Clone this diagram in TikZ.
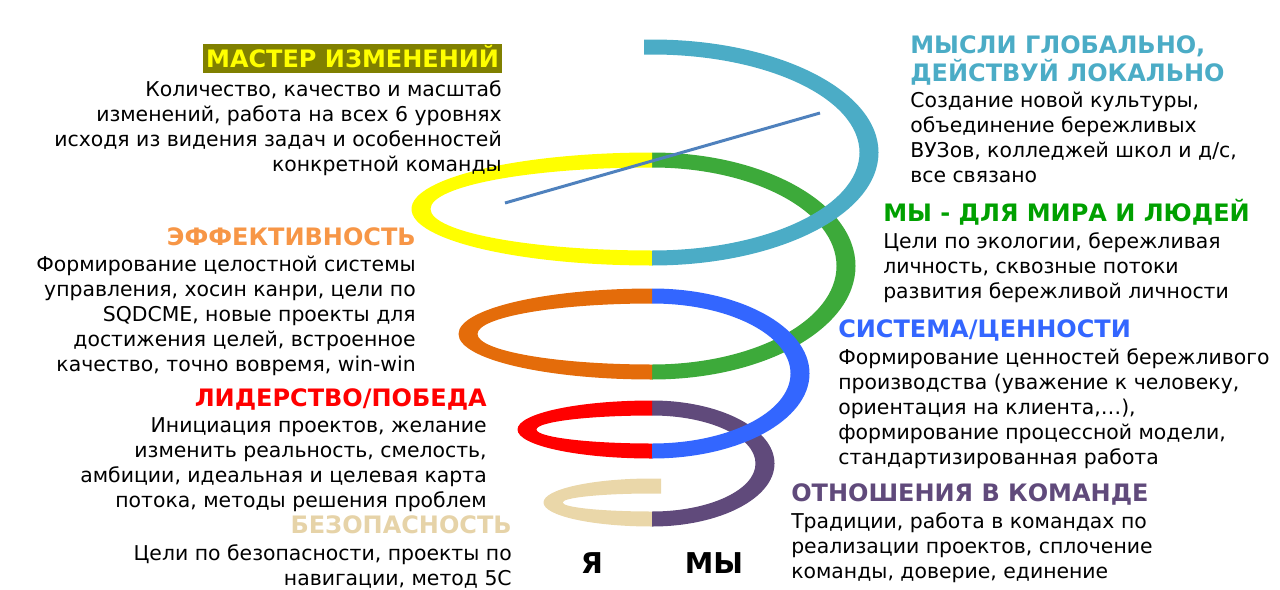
\documentclass[tikz,border=0pt]{standalone}
\usepackage{fontspec}
\setmainfont{DejaVu Sans}
\usepackage{xcolor}
\usetikzlibrary{positioning}

\definecolor{aquaC}{HTML}{4BACC6}
\definecolor{greenC}{HTML}{3DAA3A}
\definecolor{yellowC}{HTML}{FFFF00}
\definecolor{orangeC}{HTML}{E46C0A}
\definecolor{blueC}{HTML}{3366FF}
\definecolor{redC}{HTML}{FF0000}
\definecolor{purpleC}{HTML}{604A7B}
\definecolor{beigeC}{HTML}{EAD7A9}
\definecolor{oliveC}{HTML}{808000}
\definecolor{axisC}{HTML}{4F81BD}
\definecolor{effC}{HTML}{F79646}
\definecolor{worldC}{HTML}{00A000}
\definecolor{safeC}{HTML}{E6D3A8}

\begin{document}
\begin{tikzpicture}[x=0.75pt, y=-0.75pt,
    head/.style={font=\bfseries\fontsize{18}{21}\selectfont, inner sep=0pt, text height=13pt, text depth=0pt},
    body/.style={font=\fontsize{15.3}{18.75}\selectfont, inner sep=0pt},
    leftbody/.style={body, align=right, anchor=north east},
    rightbody/.style={body, align=left, anchor=north west},
    big/.style={font=\bfseries\fontsize{21.5}{24}\selectfont, inner sep=0pt}
    ]
    \useasboundingbox (0,0) rectangle (1280,589);

    \fill[beigeC] (661,478.5) -- (652,478.5) arc[start angle=270, end angle=90, x radius=108.5, y radius=24]
        -- (652,511.5) arc[start angle=90, end angle=270, x radius=89.5, y radius=9] -- (661,493.5) -- cycle;
    \fill[purpleC] (652,526.5) arc[start angle=90, end angle=-90, x radius=122.5, y radius=63]
        -- (652,415.5) arc[start angle=-90, end angle=90, x radius=103.5, y radius=48] -- cycle;
    \fill[redC] (652,400.5) arc[start angle=270, end angle=90, x radius=134.5, y radius=29]
        -- (652,443.5) arc[start angle=90, end angle=270, x radius=115.5, y radius=14] -- cycle;
    \fill[greenC] (652,379.5) arc[start angle=90, end angle=-90, x radius=203.5, y radius=113.5]
        -- (652,167.5) arc[start angle=-90, end angle=90, x radius=184.5, y radius=98.5] -- cycle;
    \fill[blueC] (652,458.5) arc[start angle=90, end angle=-90, x radius=157.5, y radius=85]
        -- (652,303.5) arc[start angle=-90, end angle=90, x radius=138.5, y radius=70] -- cycle;
    \fill[orangeC] (652,288.5) arc[start angle=270, end angle=90, x radius=193.5, y radius=45.5]
        -- (652,364.5) arc[start angle=90, end angle=270, x radius=174.5, y radius=30.5] -- cycle;
    \fill[yellowC] (652,152.5) arc[start angle=270, end angle=90, x radius=240.5, y radius=56.5]
        -- (652,250.5) arc[start angle=90, end angle=270, x radius=221.5, y radius=41.5] -- cycle;
    \fill[aquaC] (652,265.5) arc[start angle=90, end angle=-90, x radius=226.5, y radius=113]
        -- (644,39.5) -- (644,54.5) -- (652,54.5) arc[start angle=-90, end angle=90, x radius=207.5, y radius=98] -- cycle;

    \coordinate (axisA) at (505,203);
    \coordinate (axisB) at (820,113);
    \draw[axisC, line width=2.25pt] (axisA) -- (axisB);

    \node[head, text=yellowC, fill=oliveC, inner xsep=2pt, minimum height=21.75pt, anchor=east] (master) at (502,58.5) {МАСТЕР ИЗМЕНЕНИЙ};
    \node[leftbody, below=5pt of master.south east, anchor=north east] (masterTxt) {Количество, качество и масштаб\\изменений, работа на всех 6 уровнях\\исходя из видения задач и особенностей\\конкретной команды};

    \node[head, text=effC, anchor=east] (eff) at (416,237) {ЭФФЕКТИВНОСТЬ};
    \node[leftbody, below=7.5pt of eff.south east, anchor=north east] (effTxt) {Формирование целостной системы\\управления, хосин канри, цели по\\SQDCME, новые проекты для\\достижения целей, встроенное\\качество, точно вовремя, win-win};

    \node[head, text=redC, anchor=east] (lead) at (487,398) {ЛИДЕРСТВО/ПОБЕДА};
    \node[leftbody, below=7.5pt of lead.south east, anchor=north east] (leadTxt) {Инициация проектов, желание\\изменить реальность, смелость,\\амбиции, идеальная и целевая карта\\потока, методы решения проблем};

    \node[head, text=safeC, anchor=east] (safe) at (512,525) {БЕЗОПАСНОСТЬ};
    \node[leftbody, below=7.5pt of safe.south east, anchor=north east] (safeTxt) {Цели по безопасности, проекты по\\навигации, метод 5С};

    \node[head, text=aquaC, align=left, anchor=north west, text height=] (think) at (910,35) {МЫСЛИ ГЛОБАЛЬНО,\\ДЕЙСТВУЙ ЛОКАЛЬНО};
    \node[rightbody, below=7.5pt of think.south west, anchor=north west] (thinkTxt) {Создание новой культуры,\\объединение бережливых\\ВУЗов, колледжей школ и д/с,\\все связано};

    \node[head, text=worldC, anchor=west] (world) at (883,213) {МЫ - ДЛЯ МИРА И ЛЮДЕЙ};
    \node[rightbody, below=7.5pt of world.south west, anchor=north west] (worldTxt) {Цели по экологии, бережливая\\личность, сквозные потоки\\развития бережливой личности};

    \node[head, text=blueC, anchor=west] (sys) at (838,329) {СИСТЕМА/ЦЕННОСТИ};
    \node[rightbody, below=7.5pt of sys.south west, anchor=north west] (sysTxt) {Формирование ценностей бережливого\\производства (уважение к человеку,\\ориентация на клиента,…),\\формирование процессной модели,\\стандартизированная работа};

    \node[head, text=purpleC, anchor=west] (team) at (791,493) {ОТНОШЕНИЯ В КОМАНДЕ};
    \node[rightbody, below=7.5pt of team.south west, anchor=north west] (teamTxt) {Традиции, работа в командах по\\реализации проектов, сплочение\\команды, доверие, единение};

    \node[big] (me) at (592,563) {Я};
    \node[big] (we) at (714,563) {МЫ};

\end{tikzpicture}
\end{document}
